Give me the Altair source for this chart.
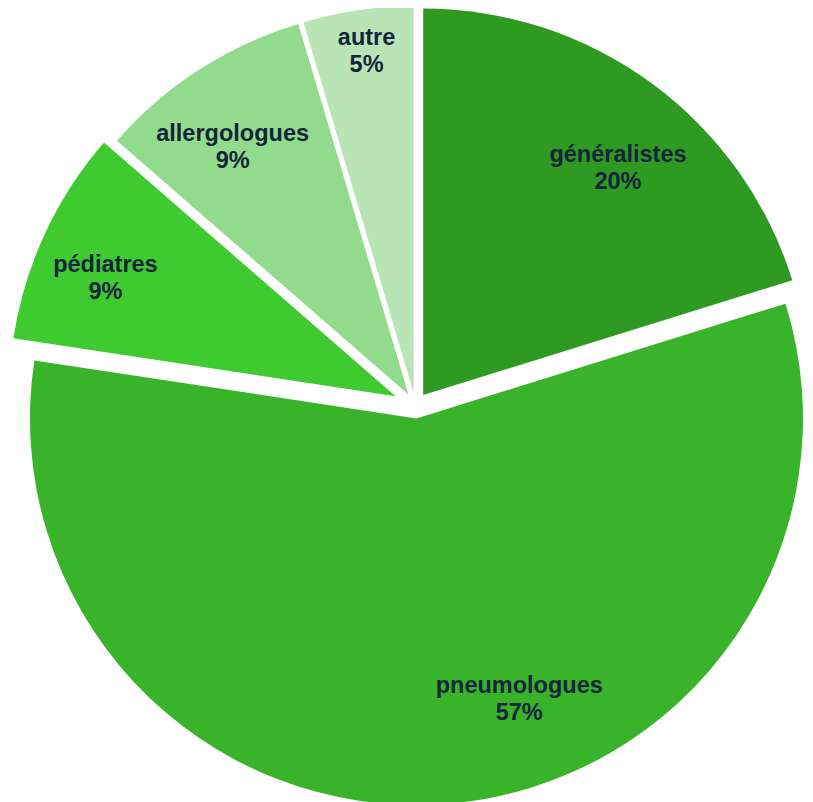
import math
import altair as alt
import pandas as pd

# ---- data ----
categories = ["généralistes", "pneumologues", "pédiatres", "allergologues", "autre"]
values = [20.2, 57.2, 9.0, 9.0, 4.6]

# ---- style ----
colors = ["#2e9a22", "#38b32a", "#3fca30", "#92db8c", "#b9e5b6"]
explode = [13, 13, 22, 13, 13]          # px each slice is pulled out
label_radius = [312, 312, 335, 316, 357]
label_angle_shift = [4.1, -15.1, -2.6, -2.6, 0.4]  # degrees
CX, CY, R = 407.5, 397.5, 386.5
W, H = 797, 794
LINE_H = 27

total = sum(values)
rows = []
cum = 0.0
for i, (c, v) in enumerate(zip(categories, values)):
    t0 = cum / total * 2 * math.pi
    cum += v
    t1 = cum / total * 2 * math.pi
    mid = (t0 + t1) / 2
    ax = CX + explode[i] * math.sin(mid)
    ay = CY - explode[i] * math.cos(mid)
    la = mid + math.radians(label_angle_shift[i])
    lx = CX + label_radius[i] * math.sin(la)
    ly = CY - label_radius[i] * math.cos(la)
    rows.append(dict(cat=c, value=v, t0=t0, t1=t1, ax=ax, ay=ay, lx=lx, ly=ly,
                     label=f"{c}\n{round(v):d}%"))
df = pd.DataFrame(rows)

base = alt.Chart(df)

arcs = base.mark_arc(radius=R).encode(
    x=alt.X("ax:Q", scale=None, axis=None),
    y=alt.Y("ay:Q", scale=None, axis=None),
    theta=alt.Theta("t0:Q", scale=None),
    theta2="t1:Q",
    color=alt.Color("cat:N", scale=alt.Scale(domain=categories, range=colors), legend=None),
)

labels = base.mark_text(
    font="Liberation Sans", fontWeight="bold", fontSize=23.5, color="#13253a",
    lineBreak="\n", lineHeight=LINE_H, align="center", baseline="middle",
    dy=-LINE_H / 2,
).encode(
    x=alt.X("lx:Q", scale=None, axis=None),
    y=alt.Y("ly:Q", scale=None, axis=None),
    text="label:N",
)

chart = (arcs + labels).properties(
    width=W, height=H, padding=0, autosize=alt.AutoSizeParams(type="none"),
).configure_view(stroke=None)

chart.save("out.html", embed_options={"renderer": "svg", "actions": False})
